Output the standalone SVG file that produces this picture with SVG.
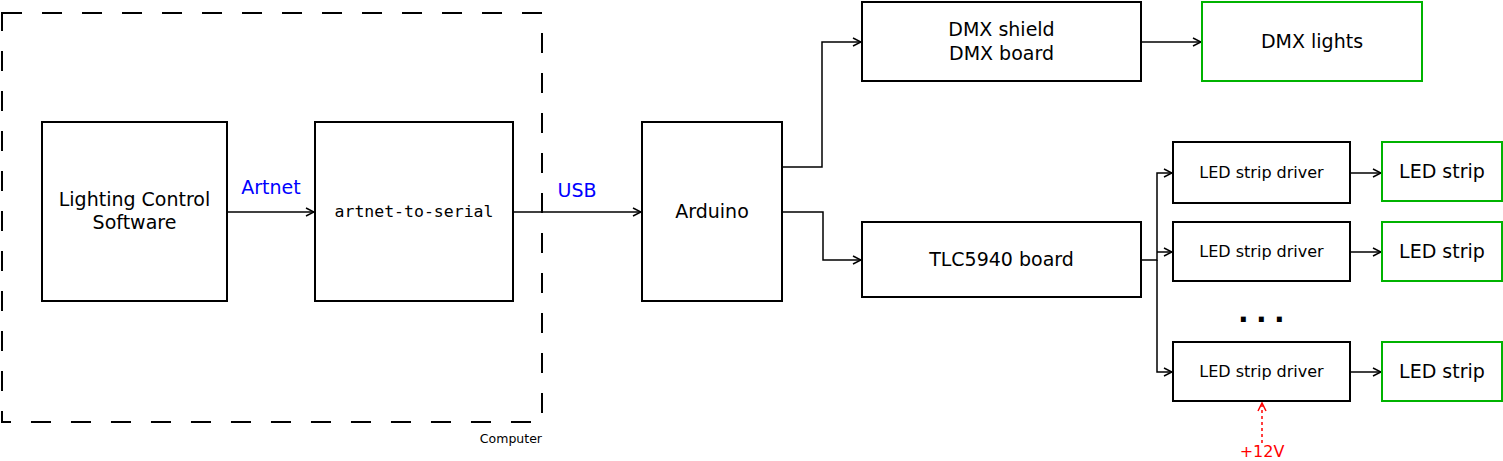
<svg xmlns="http://www.w3.org/2000/svg" width="1503" height="461" viewBox="0 0 1503 461">
<style>
.box{fill:#fff;stroke:#000;stroke-width:2}
.gbox{fill:#fff;stroke:#00b300;stroke-width:2}
.t{font-family:"DejaVu Sans",sans-serif;font-size:19px;fill:#000;text-anchor:middle;dominant-baseline:central}
.s{font-size:16px}
.m{font-family:"DejaVu Sans Mono",monospace;font-size:16.5px}
.c{fill:none;stroke:#000;stroke-width:1.5}
.lbl{font-family:"DejaVu Sans",sans-serif;font-size:19px;fill:#0000ff;text-anchor:middle;dominant-baseline:central}
</style>
<defs>
<marker id="a" viewBox="0 0 10 10" refX="9" refY="5" markerWidth="10" markerHeight="10" markerUnits="userSpaceOnUse" orient="auto">
<path d="M1,1 L9,5 L1,9" fill="none" stroke="#000" stroke-width="1.5"/>
</marker>
<marker id="r" viewBox="0 0 10 10" refX="9" refY="5" markerWidth="10" markerHeight="10" markerUnits="userSpaceOnUse" orient="auto">
<path d="M1,1 L9,5 L1,9" fill="none" stroke="#ff0000" stroke-width="1.5"/>
</marker>
</defs>
<g id="computer">
<rect x="2" y="13" width="540" height="409" fill="none" stroke="#000" stroke-width="2" stroke-dasharray="20 20"/>
<text x="542" y="438" font-family="DejaVu Sans,sans-serif" font-size="12.5" text-anchor="end" dominant-baseline="central">Computer</text>
</g>
<g id="connectors">
<path class="c" d="M227,212 H314" marker-end="url(#a)"/>
<path class="c" d="M513,212 H641" marker-end="url(#a)"/>
<path class="c" d="M782,167 H822 V42 H861" marker-end="url(#a)"/>
<path class="c" d="M782,212 H823 V260 H861" marker-end="url(#a)"/>
<path class="c" d="M1141,42 H1201" marker-end="url(#a)"/>
<path class="c" d="M1141,260 H1157 V173 H1172" marker-end="url(#a)"/>
<path class="c" d="M1157,252 H1172" marker-end="url(#a)"/>
<path class="c" d="M1157,260 V372 H1172" marker-end="url(#a)"/>
<path class="c" d="M1350,173 H1381" marker-end="url(#a)"/>
<path class="c" d="M1350,252 H1381" marker-end="url(#a)"/>
<path class="c" d="M1350,372 H1381" marker-end="url(#a)"/>
<path d="M1262,443 V403" fill="none" stroke="#ff0000" stroke-width="1.5" stroke-dasharray="3 3" marker-end="url(#r)"/>
<text class="lbl" x="271" y="187">Artnet</text>
<text class="lbl" x="577" y="190">USB</text>
<text x="1262" y="451" font-family="DejaVu Sans,sans-serif" font-size="16" fill="#ff0000" text-anchor="middle" dominant-baseline="central">+12V</text>
</g>
<g id="lcs">
<rect class="box" x="42" y="122" width="185" height="179"/>
<text class="t" x="134.5" y="199">Lighting Control</text>
<text class="t" x="134.5" y="222">Software</text>
</g>
<g id="a2s">
<rect class="box" x="315" y="122" width="198" height="179"/>
<text class="t m" x="414" y="211">artnet-to-serial</text>
</g>
<g id="arduino">
<rect class="box" x="642" y="122" width="140" height="179"/>
<text class="t" x="712" y="211">Arduino</text>
</g>
<g id="dmxshield">
<rect class="box" x="862" y="2" width="279" height="79"/>
<text class="t" x="1001.5" y="29">DMX shield</text>
<text class="t" x="1001.5" y="53">DMX board</text>
</g>
<g id="dmxlights">
<rect class="gbox" x="1202" y="2" width="220" height="79"/>
<text class="t" x="1312" y="41">DMX lights</text>
</g>
<g id="tlc">
<rect class="box" x="862" y="222" width="279" height="75"/>
<text class="t" x="1001.5" y="259">TLC5940 board</text>
</g>
<g id="driver1">
<rect class="box" x="1173" y="142" width="177" height="61"/>
<text class="t s" x="1261.5" y="172">LED strip driver</text>
</g>
<g id="driver2">
<rect class="box" x="1173" y="222" width="177" height="59"/>
<text class="t s" x="1261.5" y="251">LED strip driver</text>
</g>
<g id="driver3">
<rect class="box" x="1173" y="342" width="177" height="59"/>
<text class="t s" x="1261.5" y="371">LED strip driver</text>
</g>
<g id="strip1">
<rect class="gbox" x="1382" y="142" width="120" height="59"/>
<text class="t" x="1442" y="171">LED strip</text>
</g>
<g id="strip2">
<rect class="gbox" x="1382" y="222" width="120" height="59"/>
<text class="t" x="1442" y="251">LED strip</text>
</g>
<g id="strip3">
<rect class="gbox" x="1382" y="342" width="120" height="59"/>
<text class="t" x="1442" y="371">LED strip</text>
</g>
<g id="ellipsis">
<text x="1238" y="322" font-family="DejaVu Sans,sans-serif" font-size="28" font-weight="bold" letter-spacing="7.4">...</text>
</g>
</svg>
